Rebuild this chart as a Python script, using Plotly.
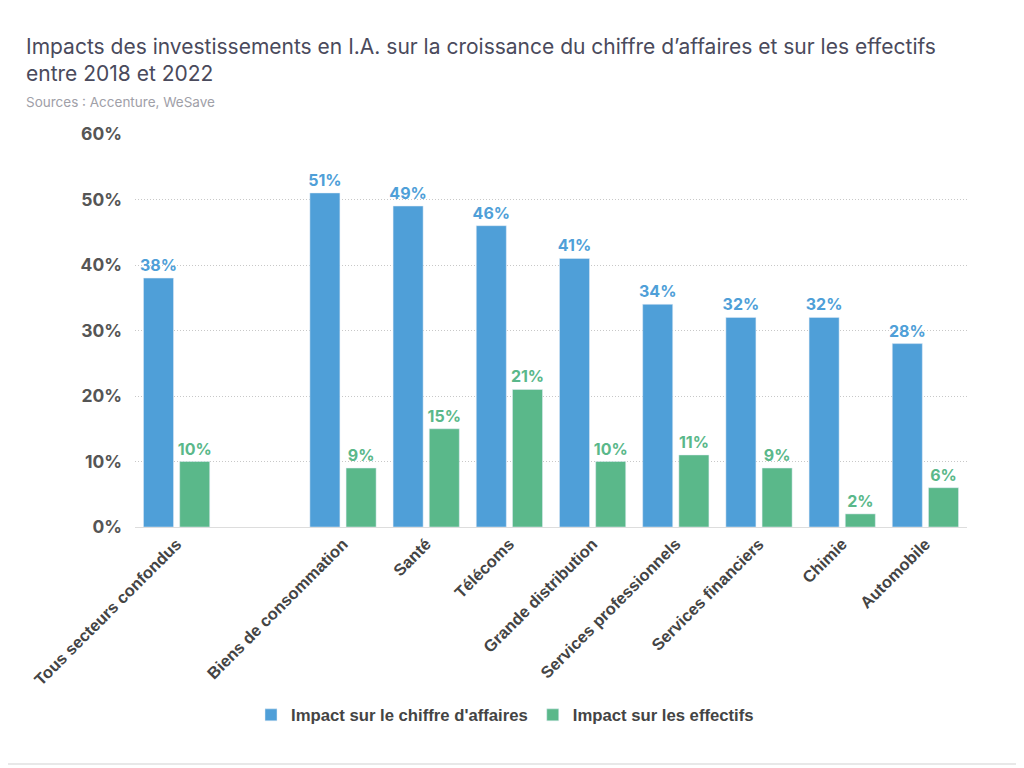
import plotly.graph_objects as go

categories = ["Tous secteurs confondus", " ", "Biens de consommation", "Santé", "Télécoms",
              "Grande distribution", "Services professionnels", "Services financiers",
              "Chimie", "Automobile"]
chiffre_affaires = [38, None, 51, 49, 46, 41, 34, 32, 32, 28]
effectifs = [10, None, 9, 15, 21, 10, 11, 9, 2, 6]
y_ticks = [0, 10, 20, 30, 40, 50, 60]

BLUE = "#4f9fd8"
GREEN = "#5ab88a"
LABEL_FONT = "Liberation Sans, Arial, sans-serif"
NUM_FONT = "Inter, sans-serif"

# the page body adds an 8px offset, so the figure is drawn 8px smaller
W, H = 1016, 760
L, T = 127, 126
PW, PH = 832, 393


def pct(vals):
    return [f"{v}%" if v is not None else "" for v in vals]


def px(x):
    return (x - L) / PW


def py(y):
    return (T + PH - y) / PH


fig = go.Figure()
fig.add_trace(go.Bar(
    x=categories, y=chiffre_affaires, name="Impact sur le chiffre d'affaires",
    marker_color=BLUE, text=pct(chiffre_affaires), textposition="outside",
    textfont=dict(family=NUM_FONT, size=16, color=BLUE, weight="bold"),
    constraintext="none", cliponaxis=False,
))
fig.add_trace(go.Bar(
    x=categories, y=effectifs, name="Impact sur les effectifs",
    marker_color=GREEN, text=pct(effectifs), textposition="outside",
    textfont=dict(family=NUM_FONT, size=16, color=GREEN, weight="bold"),
    constraintext="none", cliponaxis=False,
))

fig.update_layout(
    width=W, height=H,
    margin=dict(l=L, r=W - L - PW, t=T, b=H - T - PH),
    paper_bgcolor="white", plot_bgcolor="white",
    barmode="group", bargap=0.13, bargroupgap=0.17,
    showlegend=True,
    legend=dict(orientation="h", x=px(497), xanchor="center", y=py(707), yanchor="middle",
                font=dict(family=LABEL_FONT, size=16.7, color="#444444", weight="bold"),
                itemwidth=30, tracegroupgap=0),
)

fig.update_xaxes(
    type="category", tickangle=-45,
    tickfont=dict(family=LABEL_FONT, size=16.5, color="#444444", weight="bold"),
    showline=True, linecolor="#dddddd", linewidth=1, showgrid=False, ticks="",
)
fig.update_yaxes(
    range=[0, 60], tickvals=y_ticks, ticktext=[f"{v}%" for v in y_ticks],
    tickfont=dict(family=NUM_FONT, size=17.5, color="#555555", weight="bold"),
    showgrid=True, gridcolor="#c8c8c8", griddash="1px,2px", gridwidth=1,
    zeroline=False, ticks="", ticklabelstandoff=12,
)

fig.add_annotation(
    xref="paper", yref="paper", x=px(16), y=py(24),
    xanchor="left", yanchor="top", align="left", showarrow=False,
    text="Impacts des investissements en I.A. sur la croissance du chiffre d’affaires et sur les effectifs<br>entre 2018 et 2022",
    font=dict(family="Inter, sans-serif", size=21, color="#4a4a5c"),
)
fig.add_annotation(
    xref="paper", yref="paper", x=px(16), y=py(84),
    xanchor="left", yanchor="top", showarrow=False,
    text="Sources : Accenture, WeSave",
    font=dict(family="Inter, sans-serif", size=13.5, color="#a0a0a8"),
)

fig.add_shape(
    type="rect", xref="paper", yref="paper",
    x0=px(-4), x1=px(1009), y0=py(756), y1=py(-3),
    line=dict(color="#e8e8e8", width=2), fillcolor="rgba(0,0,0,0)", layer="below",
)

fig.write_html("out.html")
